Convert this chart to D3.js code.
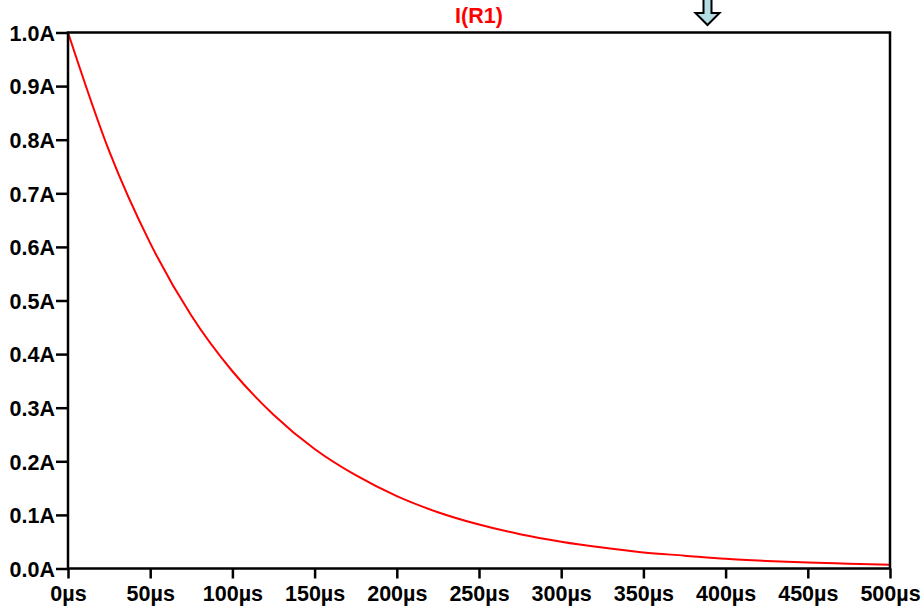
<!DOCTYPE html>
<html><head><meta charset="utf-8">
<script src="https://cdn.jsdelivr.net/npm/d3@7"></script>
<style>body{margin:0;background:#fff;}svg{display:block;}</style>
</head><body>
<svg id="c" width="921" height="606"></svg>
<script>
const timeUs = [0,25,50,75,100,125,150,175,200,225,250,275,300,325,350,375,400,425,450,475,500];
const currentA = [1.0,0.779,0.607,0.472,0.368,0.287,0.223,0.174,0.135,0.105,0.082,0.064,0.050,0.039,0.030,0.024,0.018,0.014,0.011,0.009,0.007];
const xTicks = [0,50,100,150,200,250,300,350,400,450,500];
const yTicks = [0,0.1,0.2,0.3,0.4,0.5,0.6,0.7,0.8,0.9,1.0];
const title = "I(R1)";

const svg = d3.select("#c");
const L=68, R=890, T=32.5, B=568.5;
const x = d3.scaleLinear().domain([0,500]).range([L,R]);
const y = d3.scaleLinear().domain([0,1]).range([B,T]);
const font = "'Liberation Sans', Arial, sans-serif";
const fs = "21.5px";

// curve
svg.append("path")
  .datum(timeUs.map((t,i)=>[t,currentA[i]]))
  .attr("fill","none").attr("stroke","#ff0000").attr("stroke-width",2)
  .attr("d", d3.line().x(d=>x(d[0])).y(d=>y(d[1])).curve(d3.curveMonotoneX));

// frame
svg.append("rect").attr("x",L).attr("y",T).attr("width",R-L).attr("height",B-T)
  .attr("fill","none").attr("stroke","#000").attr("stroke-width",2.5);

// axes
const yAxis = d3.axisLeft(y).tickValues(yTicks).tickSize(12).tickPadding(1)
  .tickFormat(d=>d3.format(".1f")(d)+"A");
const gy = svg.append("g").attr("transform",`translate(${L},0)`).call(yAxis);
const xAxis = d3.axisBottom(x).tickValues(xTicks).tickSize(10)
  .tickFormat(d=>d+"µs");
const gx = svg.append("g").attr("transform",`translate(0,${B})`).call(xAxis);
[gy,gx].forEach(g=>{
  g.select(".domain").remove();
  g.selectAll(".tick line").attr("stroke","#000").attr("stroke-width",2.5);
  g.selectAll(".tick text").attr("fill","#000").style("font-family",font)
   .style("font-weight","bold").style("font-size",fs);
});
gy.selectAll(".tick text").attr("dy","0.36em");
gx.selectAll(".tick text").attr("y",32.5).attr("dy",0);

// title
svg.append("text").attr("x",479).attr("y",23).attr("text-anchor","middle")
  .attr("fill","#ff0000").style("font-family",font).style("font-weight","bold")
  .style("font-size",fs).text(title);

// cursor arrow
const ax=707.5;
svg.append("path")
  .attr("d",`M${ax-4},-2 L${ax+4},-2 L${ax+4},13 L${ax+12},13 L${ax},25 L${ax-12},13 L${ax-4},13 Z`)
  .attr("fill","#b4dde3").attr("stroke","#000").attr("stroke-width",2);
</script>
</body></html>
